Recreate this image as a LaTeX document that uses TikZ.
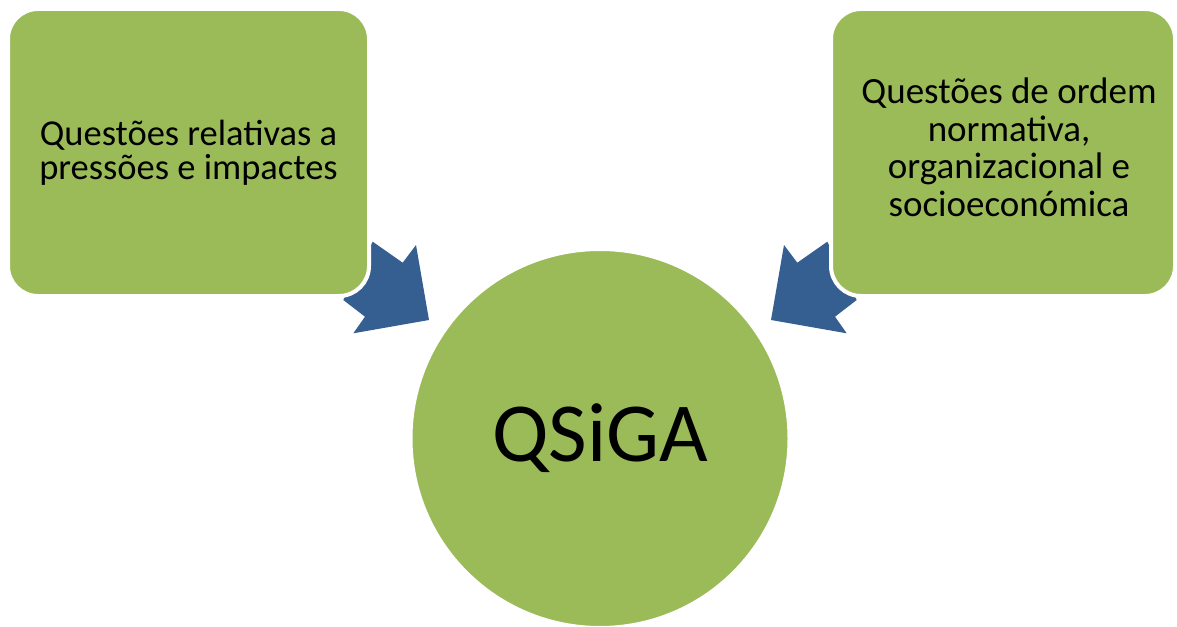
\documentclass[tikz,border=0pt]{standalone}
\usepackage{fontspec}
\setmainfont{Carlito}
\definecolor{boxgreen}{RGB}{155,187,89}
\definecolor{arrowblue}{RGB}{54,95,145}
\begin{document}
\begin{tikzpicture}[x=1pt,y=-1pt,
  box/.style={draw=white, line width=4pt, fill=boxgreen, rounded corners=30pt,
    align=center, inner sep=0pt},
  lefttextfont/.style={font=\fontsize{36.5}{34}\selectfont},
  boxtext/.style={align=center, inner sep=0pt, font=\fontsize{37}{37.5}\selectfont},
  hub/.style={circle, draw=white, line width=4pt, fill=boxgreen, inner sep=0pt,
    minimum size=379pt, font=\fontsize{84}{90}\selectfont},
  blockarrow/.style={fill=arrowblue}]
\useasboundingbox[fill=white] (0,0) rectangle (1177,626);
% block arrows (behind boxes)
\fill[blockarrow] (372.7,241.7) -- (402.7,262.7) -- (416,245) -- (429,320) -- (353.3,333.3) -- (365,316.7) -- (343.3,300) -- cycle;
\fill[blockarrow] (827.3,241.7) -- (797.3,262.7) -- (784,245) -- (771,320) -- (846.7,333.3) -- (835,316.7) -- (856.7,300) -- cycle;
% boxes
\node[box, lefttextfont, minimum width=361pt, minimum height=287pt] (left) at (188.5,152.5)
  {Questões relativas a\\pressões e impactes};
\node[box, minimum width=344pt, minimum height=287pt] (right) at (1003,152.5) {};
\node[boxtext] (righttext) at ([xshift=6pt,yshift=5pt]right.center)
  {Questões de ordem\\normativa,\\organizacional e\\socioeconómica};
% hub
\node[hub] (qsiga) at (600,438.5) {QSiGA};
\end{tikzpicture}
\end{document}
